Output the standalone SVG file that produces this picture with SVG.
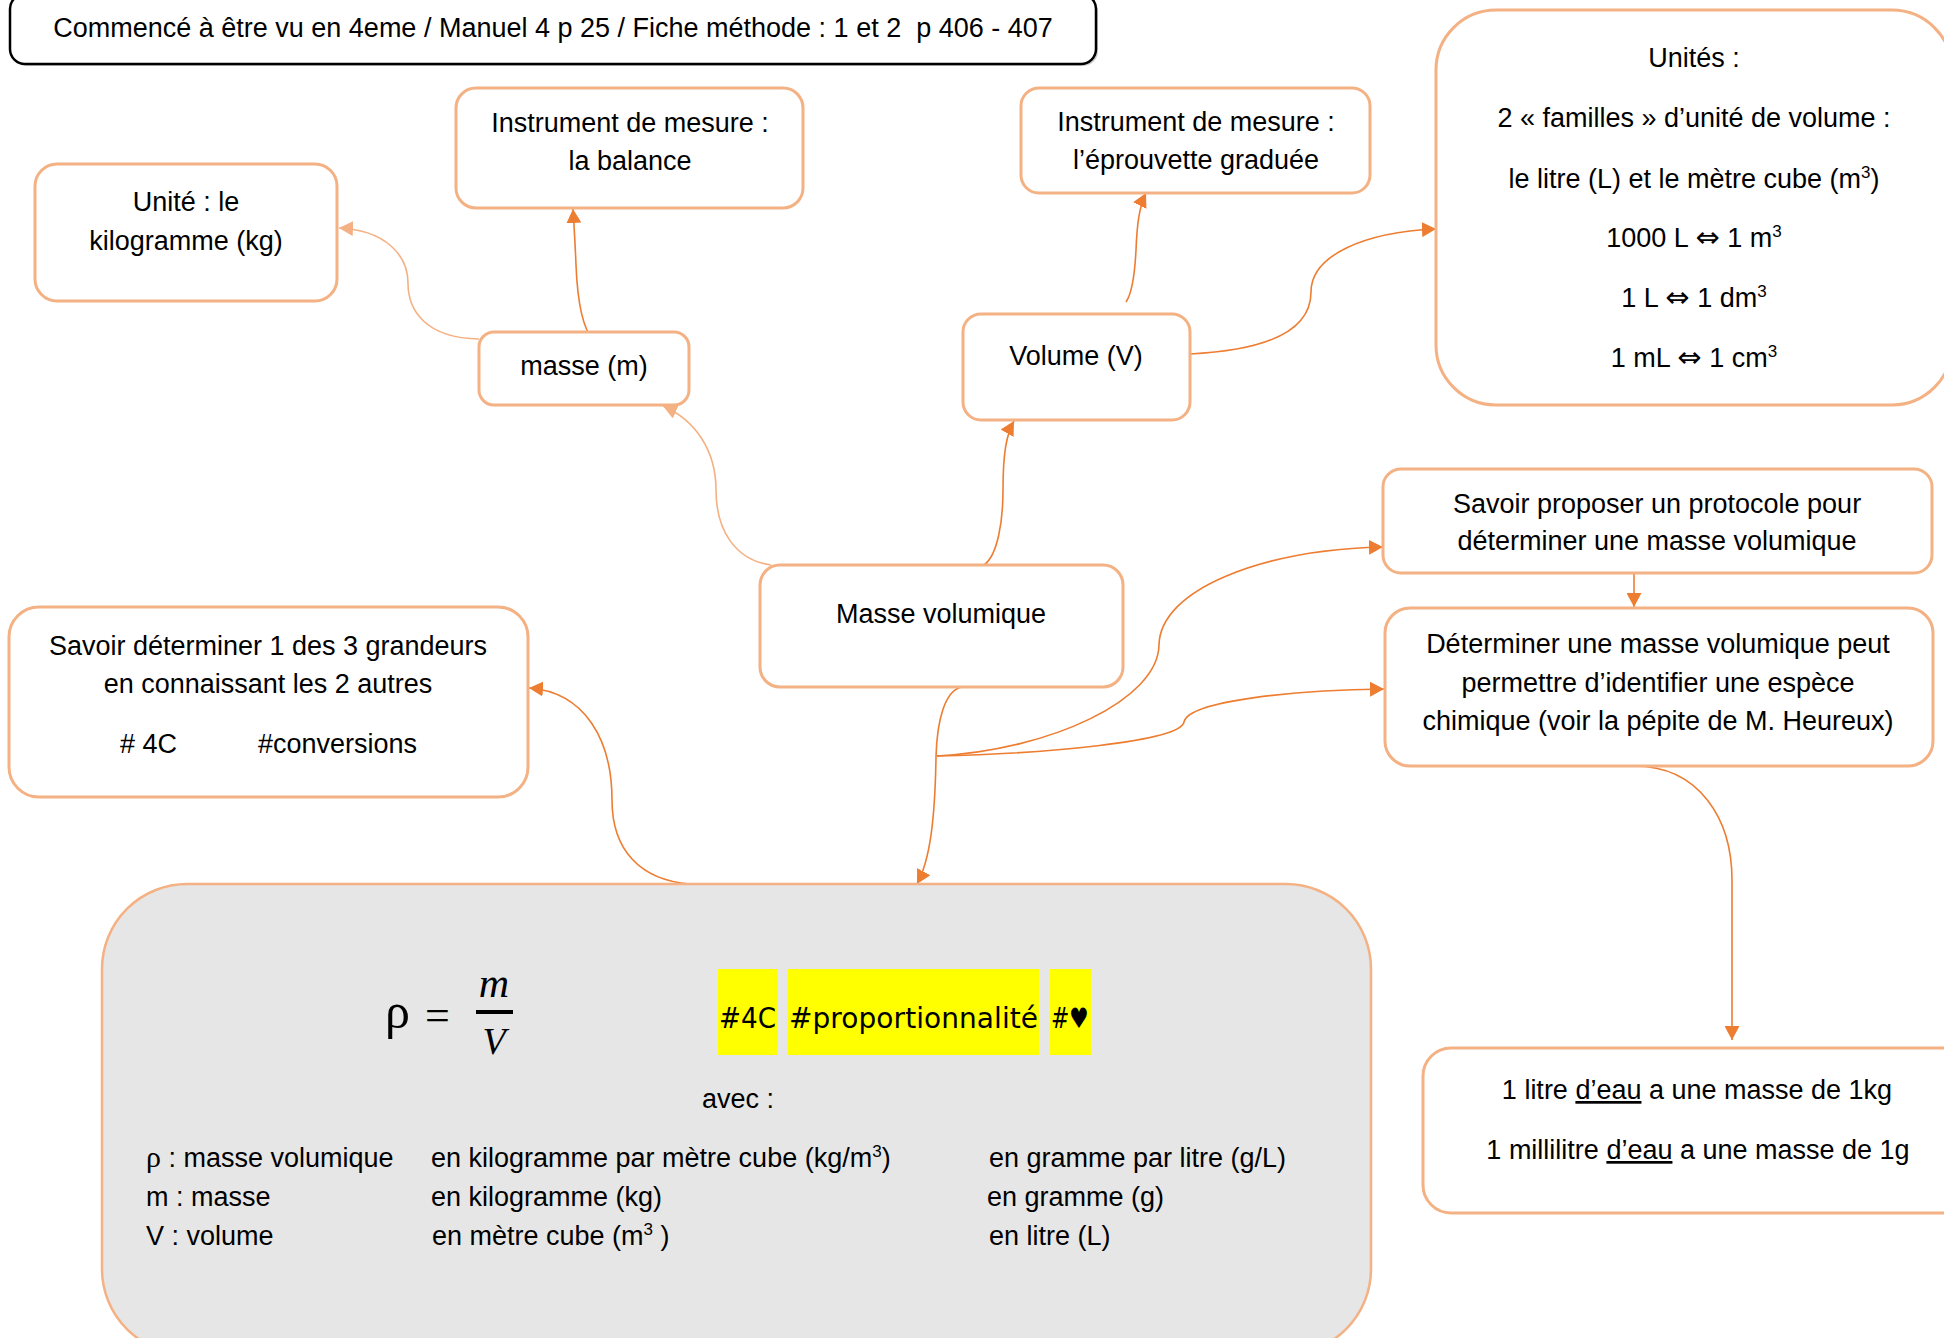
<svg xmlns="http://www.w3.org/2000/svg" width="1944" height="1338" viewBox="0 0 1944 1338">
  <style>
    .box { fill: #ffffff; stroke: #f4b183; stroke-width: 3; }
    .t { font-family: "Liberation Sans", "DejaVu Sans", sans-serif; font-size: 27px; fill: #000; }
    .c { text-anchor: middle; }
    .dark { fill: none; stroke: #ed7d31; stroke-width: 1.6; }
    .light { fill: none; stroke: #f4b183; stroke-width: 1.6; }
    .tag { font-family: "DejaVu Sans", sans-serif; font-size: 28px; fill: #000; }
    .hl { fill: #ffff00; }
    .eq { font-family: "DejaVu Sans", sans-serif; font-size: 29px; }
    .sup { font-size: 17px; }
  </style>
  <defs>
    <marker id="arrDark" markerUnits="userSpaceOnUse" markerWidth="15" markerHeight="15" refX="14" refY="7.5" orient="auto">
      <path d="M0,0 L14,7.5 L0,15 z" fill="#ed7d31"/>
    </marker>
    <marker id="arrLight" markerUnits="userSpaceOnUse" markerWidth="15" markerHeight="15" refX="14" refY="7.5" orient="auto">
      <path d="M0,0 L14,7.5 L0,15 z" fill="#f4b183"/>
    </marker>
  </defs>

  <rect width="1944" height="1338" fill="#ffffff"/>

  <!-- header banner -->
  <g id="header">
    <rect x="12" y="-4" width="1086" height="70" rx="15" fill="#9a9a9a" opacity="0.5"/>
    <rect x="10" y="-6" width="1086" height="70" rx="15" fill="#ffffff" stroke="#000" stroke-width="2.5"/>
    <text class="t c" x="553" y="37" font-size="26" style="white-space:pre">Commencé à être vu en 4eme / Manuel 4 p 25 / Fiche méthode : 1 et 2  p 406 - 407</text>
  </g>

  <!-- connectors -->
  <g id="connectors">
    <path class="light" d="M479,339 C425,338 408,310 408,283 C408,255 385,230 339,228" marker-end="url(#arrLight)"/>
    <path class="dark" d="M593,340 C580,325 577,290 576,265 C575,240 574,225 573,209" marker-end="url(#arrDark)"/>
    <path class="light" d="M771,565 C735,560 716,530 716,490 C716,450 695,420 663,406" marker-end="url(#arrLight)"/>
    <path class="dark" d="M984,565 C998,555 1003,520 1003,490 C1003,455 1006,435 1014,421" marker-end="url(#arrDark)"/>
    <path class="dark" d="M1126,302 C1133,292 1135,270 1136,250 C1137,225 1139,207 1146,193" marker-end="url(#arrDark)"/>
    <path class="dark" d="M1190,354 C1270,350 1311,330 1311,292 C1311,255 1365,232 1436,229" marker-end="url(#arrDark)"/>
    <path class="dark" d="M962,687 C945,690 937,720 936,757 C935,820 930,860 917,884" marker-end="url(#arrDark)"/>
    <path class="dark" d="M937,756 C1050,750 1158,700 1159,645 C1160,590 1260,550 1383,547" marker-end="url(#arrDark)"/>
    <path class="dark" d="M937,756 C1040,754 1180,742 1184,722 C1189,700 1300,690 1384,689" marker-end="url(#arrDark)"/>
    <path class="dark" d="M690,884 C640,880 612,850 612,800 C612,740 585,692 529,688" marker-end="url(#arrDark)"/>
    <path class="dark" d="M1634,573 L1634,607" marker-end="url(#arrDark)"/>
    <path class="dark" d="M1634,766 C1700,766 1732,820 1732,880 L1732,1040" marker-end="url(#arrDark)"/>
  </g>

  <g id="unite-masse">
    <rect class="box" x="35" y="164" width="302" height="137" rx="22"/>
    <text class="t c" x="186" y="211">Unité : le</text>
    <text class="t c" x="186" y="250">kilogramme (kg)</text>
  </g>

  <g id="instrument-balance">
    <rect class="box" x="456" y="88" width="347" height="120" rx="20"/>
    <text class="t c" x="630" y="132">Instrument de mesure :</text>
    <text class="t c" x="630" y="170">la balance</text>
  </g>

  <g id="masse">
    <rect class="box" x="479" y="332" width="210" height="73" rx="15"/>
    <text class="t c" x="584" y="375">masse (m)</text>
  </g>

  <g id="instrument-eprouvette">
    <rect class="box" x="1021" y="88" width="349" height="105" rx="18"/>
    <text class="t c" x="1196" y="131">Instrument de mesure :</text>
    <text class="t c" x="1196" y="169">l’éprouvette graduée</text>
  </g>

  <g id="volume">
    <rect class="box" x="963" y="314" width="227" height="106" rx="18"/>
    <text class="t c" x="1076" y="365">Volume (V)</text>
  </g>

  <g id="unites-volume">
    <rect class="box" x="1436" y="10" width="516" height="395" rx="60"/>
    <text class="t c" x="1694" y="67">Unités :</text>
    <text class="t c" x="1694" y="127">2 « familles » d’unité de volume :</text>
    <text class="t c" x="1694" y="188">le litre (L) et le mètre cube (m<tspan class="sup" dy="-10">3</tspan><tspan dy="10">)</tspan></text>
    <text class="t c" x="1694" y="247">1000 L <tspan class="eq">⇔</tspan> 1 m<tspan class="sup" dy="-10">3</tspan></text>
    <text class="t c" x="1694" y="307">1 L <tspan class="eq">⇔</tspan> 1 dm<tspan class="sup" dy="-10">3</tspan></text>
    <text class="t c" x="1694" y="367">1 mL <tspan class="eq">⇔</tspan> 1 cm<tspan class="sup" dy="-10">3</tspan></text>
  </g>

  <g id="masse-volumique">
    <rect class="box" x="760" y="565" width="363" height="122" rx="20"/>
    <text class="t c" x="941" y="623">Masse volumique</text>
  </g>

  <g id="savoir-determiner">
    <rect class="box" x="9" y="607" width="519" height="190" rx="30"/>
    <text class="t c" x="268" y="655">Savoir déterminer 1 des 3 grandeurs</text>
    <text class="t c" x="268" y="693">en connaissant les 2 autres</text>
    <text class="t" x="120" y="753"># 4C</text>
    <text class="t" x="258" y="753">#conversions</text>
  </g>

  <g id="savoir-proposer">
    <rect class="box" x="1383" y="469" width="549" height="104" rx="18"/>
    <text class="t c" x="1657" y="513">Savoir proposer un protocole pour</text>
    <text class="t c" x="1657" y="550">déterminer une masse volumique</text>
  </g>

  <g id="identifier-espece">
    <rect class="box" x="1385" y="608" width="548" height="158" rx="25"/>
    <text class="t c" x="1658" y="653">Déterminer une masse volumique peut</text>
    <text class="t c" x="1658" y="692">permettre d’identifier une espèce</text>
    <text class="t c" x="1658" y="730">chimique (voir la pépite de M. Heureux)</text>
  </g>

  <g id="eau">
    <rect class="box" x="1423" y="1048" width="552" height="165" rx="28"/>
    <text class="t c" x="1697" y="1099" font-size="26.5">1 litre <tspan text-decoration="underline">d’eau</tspan> a une masse de 1kg</text>
    <text class="t c" x="1698" y="1159" font-size="26.5">1 millilitre <tspan text-decoration="underline">d’eau</tspan> a une masse de 1g</text>
  </g>

  <g id="formule">
    <rect x="102" y="884" width="1269" height="470" rx="85" fill="#e7e6e6" stroke="#f4b183" stroke-width="2.5"/>
    <text x="385" y="1028" font-family="Liberation Serif, serif" font-size="50">ρ</text>
    <text x="425" y="1030" font-family="Liberation Serif, serif" font-size="44">=</text>
    <rect x="476" y="1010" width="37" height="4" fill="#000"/>
    <text x="494" y="997" text-anchor="middle" font-family="Liberation Serif, serif" font-style="italic" font-size="42">m</text>
    <text x="494" y="1054" text-anchor="middle" font-family="Liberation Serif, serif" font-style="italic" font-size="38">V</text>

    <rect class="hl" x="718" y="969" width="60" height="86"/>
    <rect class="hl" x="788" y="969" width="251" height="86"/>
    <rect class="hl" x="1050" y="969" width="41" height="86"/>
    <text class="tag" x="719" y="1028" textLength="57" lengthAdjust="spacingAndGlyphs">#4C</text>
    <text class="tag" x="789" y="1028" textLength="249">#proportionnalité</text>
    <text class="tag" x="1051" y="1028" textLength="38" lengthAdjust="spacingAndGlyphs">#♥</text>

    <text class="t c" x="738" y="1108">avec :</text>

    <text class="t" x="146" y="1167"><tspan font-family="Liberation Serif, serif" font-size="30">ρ</tspan> : masse volumique</text>
    <text class="t" x="146" y="1206">m : masse</text>
    <text class="t" x="146" y="1245">V : volume</text>

    <text class="t" x="431" y="1167">en kilogramme par mètre cube (kg/m<tspan class="sup" dy="-10">3</tspan><tspan dy="10">)</tspan></text>
    <text class="t" x="431" y="1206">en kilogramme (kg)</text>
    <text class="t" x="432" y="1245" style="white-space:pre">en mètre cube (m<tspan class="sup" dy="-10">3</tspan><tspan dy="10"> )</tspan></text>

    <text class="t" x="989" y="1167">en gramme par litre (g/L)</text>
    <text class="t" x="987" y="1206">en gramme (g)</text>
    <text class="t" x="989" y="1245">en litre (L)</text>
  </g>
</svg>
